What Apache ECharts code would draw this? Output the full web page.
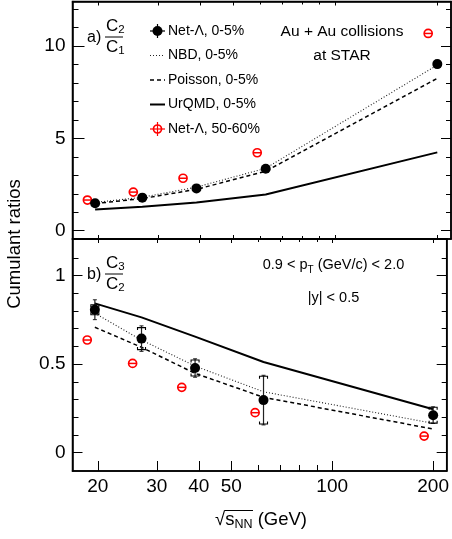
<!DOCTYPE html>
<html><head><meta charset="utf-8">
<script src="https://cdn.jsdelivr.net/npm/echarts@6/dist/echarts.min.js"></script>
<style>html,body{margin:0;padding:0;background:#fff}#c{width:452px;height:539px}</style>
</head><body><div id="c"></div>
<script>
// ---- data ----
const energies = [19.6, 27, 39, 62.4, 200];
const energiesPeripheral = [18.6, 25.4, 35.6, 58.9, 188];
const c2c1Central = [1.49, 1.79, 2.29, 3.35, 9.02];
const c2c1CentralErr = [0.03, 0.04, 0.06, 0.09, 0.2];
const c2c1Peripheral = [1.66, 2.09, 2.84, 4.22, 10.68];
const c2c1NBD = [1.53, 1.81, 2.36, 3.38, 8.97];
const c2c1Poisson = [1.47, 1.74, 2.24, 3.22, 8.25];
const c2c1UrQMD = [1.15, 1.30, 1.53, 1.96, 4.24];
const c3c2Central = [0.807, 0.644, 0.478, 0.297, 0.212];
const c3c2StatErr = [0.056, 0.072, 0.052, 0.140, 0.047];
const c3c2SysErr = [0.028, 0.062, 0.045, 0.135, 0.045];
const c3c2Peripheral = [0.636, 0.504, 0.369, 0.226, 0.094];
const c3c2NBD = [0.787, 0.636, 0.489, 0.344, 0.166];
const c3c2Poisson = [0.708, 0.595, 0.448, 0.313, 0.134];
const c3c2UrQMD = [0.843, 0.764, 0.655, 0.512, 0.245];
const xMajorTicks = [20, 30, 40, 50, 100, 200];
const xMinorTicks = [60, 70, 80, 90];
const yMajorA = [0, 5, 10];
const yMinorA = [1, 2, 3, 4, 6, 7, 8, 9, 11, 12];
const yMajorB = [0, 0.5, 1];
const yMinorB = [0.1, 0.2, 0.3, 0.4, 0.6, 0.7, 0.8, 0.9, 1.1];
const legendLabels = ['Net-\u039b, 0-5%', 'NBD, 0-5%', 'Poisson, 0-5%', 'UrQMD, 0-5%', 'Net-\u039b, 50-60%'];

// ---- layout ----
const FONT = '"Liberation Sans", Arial, Helvetica, sans-serif';
const X_MIN = 16.81, X_MAX = 219.5;
const grids = [
  {left: 72.5, right: 1, top: 1.5, height: 237.5, show: true, borderColor: '#000', borderWidth: 1.5, backgroundColor: 'transparent'},
  {left: 72.5, right: 1, top: 239, height: 232, show: true, borderColor: '#000', borderWidth: 1.5, backgroundColor: 'transparent'}
];
const xAxes = [], yAxes = [];
function xAx(g, pos, ticks, len, line, labels) {
  xAxes.push({
    type: 'log', logBase: 10, gridIndex: g, position: pos, min: X_MIN, max: X_MAX,
    axisLine: {show: line, onZero: false, lineStyle: {color: '#000', width: 1.5}},
    axisTick: {show: true, inside: true, length: len, customValues: ticks, lineStyle: {color: '#000', width: 1}},
    axisLabel: labels ? {show: true, customValues: labels, fontSize: 19, fontFamily: FONT, color: '#000', margin: 6} : {show: false},
    splitLine: {show: false}, minorTick: {show: false}
  });
  return xAxes.length - 1;
}
function yAx(g, pos, min, max, ticks, len, line, labels) {
  yAxes.push({
    type: 'value', gridIndex: g, position: pos, min: min, max: max,
    axisLine: {show: line, onZero: false, lineStyle: {color: '#000', width: 1.5}},
    axisTick: {show: true, inside: true, length: len, customValues: ticks, lineStyle: {color: '#000', width: 1}},
    axisLabel: labels ? {show: true, customValues: labels, fontSize: 19, fontFamily: FONT, color: '#000', margin: 7} : {show: false},
    splitLine: {show: false}, minorTick: {show: false}
  });
  return yAxes.length - 1;
}
// panel a
const xa = xAx(0, 'bottom', xMajorTicks, 4, true, null);
xAx(0, 'bottom', xMinorTicks, 3, false, null);
xAx(0, 'top', xMajorTicks, 4, true, null);
xAx(0, 'top', xMinorTicks, 3, false, null);
const ya = yAx(0, 'left', -0.45, 12.41, yMajorA, 12, true, yMajorA);
yAx(0, 'left', -0.45, 12.41, yMinorA, 6, false, null);
yAx(0, 'right', -0.45, 12.41, yMajorA, 10, true, null);
yAx(0, 'right', -0.45, 12.41, yMinorA, 5, false, null);
// panel b
const xb = xAx(1, 'bottom', xMajorTicks, 10, true, xMajorTicks);
xAx(1, 'bottom', xMinorTicks, 6, false, null);
xAx(1, 'top', xMajorTicks, 4, true, null);
xAx(1, 'top', xMinorTicks, 3, false, null);
const yb = yAx(1, 'left', -0.103, 1.206, yMajorB, 10, true, yMajorB);
yAx(1, 'left', -0.103, 1.206, yMinorB, 6, false, null);
yAx(1, 'right', -0.103, 1.206, yMajorB, 10, true, null);
yAx(1, 'right', -0.103, 1.206, yMinorB, 5, false, null);

const pairs = (xs, ys) => xs.map((x, i) => [x, ys[i]]);
const styles = {
  NBD: {color: '#222', width: 1.1, type: [1, 2]},
  Poisson: {color: '#000', width: 1.5, type: [4, 3]},
  UrQMD: {color: '#000', width: 2, type: 'solid'}
};
function lineSeries(name, xi, yi, data, st) {
  return {type: 'line', name, xAxisIndex: xi, yAxisIndex: yi, data, symbol: 'none', showSymbol: false,
    lineStyle: {color: st.color, width: st.width, type: st.type}, z: 2, silent: true};
}
function errRender(params, api) {
  const x = api.value(0), y = api.value(1), s = api.value(2), sy = api.value(3);
  const p = api.coord([x, y]);
  const t = api.coord([x, y + s]), b = api.coord([x, y - s]);
  const ch = [
    {type: 'line', shape: {x1: p[0], y1: t[1], x2: p[0], y2: b[1]}, style: {stroke: '#222', lineWidth: 1.2}},
    {type: 'line', shape: {x1: p[0] - 2, y1: t[1], x2: p[0] + 2, y2: t[1]}, style: {stroke: '#222', lineWidth: 1}},
    {type: 'line', shape: {x1: p[0] - 2, y1: b[1], x2: p[0] + 2, y2: b[1]}, style: {stroke: '#222', lineWidth: 1}}
  ];
  if (sy > 0) {
    const st = api.coord([x, y + sy]), sb = api.coord([x, y - sy]);
    ch.push({type: 'polyline', shape: {points: [[p[0] - 4, st[1] + 2.5], [p[0] - 4, st[1]], [p[0] + 4, st[1]], [p[0] + 4, st[1] + 2.5]]}, style: {stroke: '#000', fill: null, lineWidth: 1.1}});
    ch.push({type: 'polyline', shape: {points: [[p[0] - 4, sb[1] - 2.5], [p[0] - 4, sb[1]], [p[0] + 4, sb[1]], [p[0] + 4, sb[1] - 2.5]]}, style: {stroke: '#000', fill: null, lineWidth: 1.1}});
  }
  return {type: 'group', children: ch};
}
function periRender(params, api) {
  const p = api.coord([api.value(0), api.value(1)]);
  return {type: 'group', children: [
    {type: 'circle', shape: {cx: p[0], cy: p[1], r: 4}, style: {fill: '#fff', stroke: '#f00', lineWidth: 1.7}},
    {type: 'line', shape: {x1: p[0] - 4, y1: p[1], x2: p[0] + 4, y2: p[1]}, style: {stroke: '#f00', lineWidth: 1.5}}
  ]};
}
const blackPoint = {color: '#000', opacity: 1, borderWidth: 0};
const series = [
  lineSeries('UrQMD a', xa, ya, pairs(energies, c2c1UrQMD), styles.UrQMD),
  lineSeries('Poisson a', xa, ya, pairs(energies, c2c1Poisson), styles.Poisson),
  lineSeries('NBD a', xa, ya, pairs(energies, c2c1NBD), styles.NBD),
  {type: 'custom', xAxisIndex: xa, yAxisIndex: ya, renderItem: errRender, z: 3, silent: true,
    data: energies.map((e, i) => [e, c2c1Central[i], c2c1CentralErr[i], 0])},
  {type: 'scatter', xAxisIndex: xa, yAxisIndex: ya, data: pairs(energies, c2c1Central), symbol: 'circle', symbolSize: 10,
    itemStyle: blackPoint, z: 4, silent: true},
  {type: 'custom', xAxisIndex: xa, yAxisIndex: ya, renderItem: periRender, z: 4, silent: true,
    data: pairs(energiesPeripheral, c2c1Peripheral)},
  lineSeries('UrQMD b', xb, yb, pairs(energies, c3c2UrQMD), styles.UrQMD),
  lineSeries('Poisson b', xb, yb, pairs(energies, c3c2Poisson), styles.Poisson),
  lineSeries('NBD b', xb, yb, pairs(energies, c3c2NBD), styles.NBD),
  {type: 'custom', xAxisIndex: xb, yAxisIndex: yb, renderItem: errRender, z: 3, silent: true,
    data: energies.map((e, i) => [e, c3c2Central[i], c3c2StatErr[i], c3c2SysErr[i]])},
  {type: 'scatter', xAxisIndex: xb, yAxisIndex: yb, data: pairs(energies, c3c2Central), symbol: 'circle', symbolSize: 10,
    itemStyle: blackPoint, z: 4, silent: true},
  {type: 'custom', xAxisIndex: xb, yAxisIndex: yb, renderItem: periRender, z: 4, silent: true,
    data: pairs(energiesPeripheral, c3c2Peripheral)}
];

// ---- text / legend graphics ----
const mctx = document.createElement('canvas').getContext('2d');
function tw(t, size) { mctx.font = size + 'px ' + FONT; return mctx.measureText(t).width; }
function txt(t, x, y, size, o) {
  o = o || {};
  return {type: 'text', x: x, y: y, rotation: o.rot || 0, silent: true, z: 10,
    style: {text: t, fontSize: size, fontFamily: FONT, fill: o.fill || '#000',
      align: o.align || 'left', verticalAlign: 'middle', textAlign: o.align || 'left', textVerticalAlign: 'middle'}};
}
function runs(pieces, cx, cy, center) {
  const total = pieces.reduce((s, p) => s + tw(p[0], p[1]), 0);
  let x = center ? cx - total / 2 : cx;
  const out = [];
  pieces.forEach(p => { out.push(txt(p[0], x, cy + (p[2] || 0), p[1])); x += tw(p[0], p[1]); });
  return out;
}
function seg(x1, y1, x2, y2, w, color, dash) {
  return {type: 'line', silent: true, z: 10, shape: {x1, y1, x2, y2}, style: {stroke: color || '#000', lineWidth: w, lineDash: dash || null}};
}
const g = [];
// axis titles
g.push(txt('Cumulant ratios', 15, 244, 18.5, {align: 'center', rot: Math.PI / 2}));
(function () {
  const pcs = [['\u221a', 18.5, 0], ['s', 18.5, 0], ['NN', 12.5, 5], [' (GeV)', 18.5, 0]];
  const total = pcs.reduce((s, p) => s + tw(p[0], p[1]), 0);
  const x0 = 261 - total / 2;
  g.push.apply(g, runs(pcs, 261, 520, true));
  const xs = x0 + tw('\u221a', 18.5) - 0.5;
  const xe = xs + tw('s', 18.5) + tw('NN', 12.5) + 1;
  g.push(seg(xs, 510.5, xe, 510.5, 1));
})();
// panel labels
function frac(yc, num, den) {
  g.push(txt('C', 106, yc - 10.5, 17));
  g.push(txt(num, 106 + tw('C', 17), yc - 7, 11.5));
  g.push(seg(105, yc, 123, yc, 1));
  g.push(txt('C', 106, yc + 10.5, 17));
  g.push(txt(den, 106 + tw('C', 17), yc + 14, 11.5));
}
g.push(txt('a)', 87, 38, 16));
frac(37, '2', '1');
g.push(txt('b)', 87, 275, 16));
frac(274, '3', '2');
// annotations
g.push(txt('Au + Au collisions', 342, 32, 15.5, {align: 'center'}));
g.push(txt('at STAR', 342, 56, 15.5, {align: 'center'}));
g.push.apply(g, runs([['0.9 < p', 14.5, 0], ['T', 10, 5], [' (GeV/c) < 2.0', 14.5, 0]], 333.5, 265, true));
g.push(txt('|y| < 0.5', 333.5, 298, 14.5, {align: 'center'}));
// legend
const rows = [31, 55.5, 80, 104.5, 129];
const lx1 = 150, lx2 = 165, lxc = 157.5, ltx = 168;
g.push(seg(lx1, rows[0], lx2, rows[0], 1.2));
g.push(seg(lxc, rows[0] - 7, lxc, rows[0] + 7, 1.2));
g.push({type: 'circle', silent: true, z: 11, shape: {cx: lxc, cy: rows[0], r: 5}, style: {fill: '#000'}});
g.push(seg(lx1, rows[1], lx2, rows[1], styles.NBD.width, styles.NBD.color, styles.NBD.type));
g.push(seg(lx1, rows[2], lx2, rows[2], styles.Poisson.width, styles.Poisson.color, styles.Poisson.type));
g.push(seg(lx1, rows[3], lx2, rows[3], styles.UrQMD.width, styles.UrQMD.color));
g.push(seg(lx1, rows[4], lx2, rows[4], 1.2, '#f00'));
g.push(seg(lxc, rows[4] - 7, lxc, rows[4] + 7, 1.2, '#f00'));
g.push({type: 'circle', silent: true, z: 11, shape: {cx: lxc, cy: rows[4], r: 4}, style: {fill: null, stroke: '#f00', lineWidth: 1.7}});
legendLabels.forEach((t, i) => g.push(txt(t, ltx, rows[i], 14)));

const chart = echarts.init(document.getElementById('c'), null, {renderer: 'canvas'});
chart.setOption({
  animation: false,
  backgroundColor: '#fff',
  textStyle: {fontFamily: FONT},
  grid: grids,
  xAxis: xAxes,
  yAxis: yAxes,
  series: series,
  graphic: {elements: g}
});
</script>
</body></html>
